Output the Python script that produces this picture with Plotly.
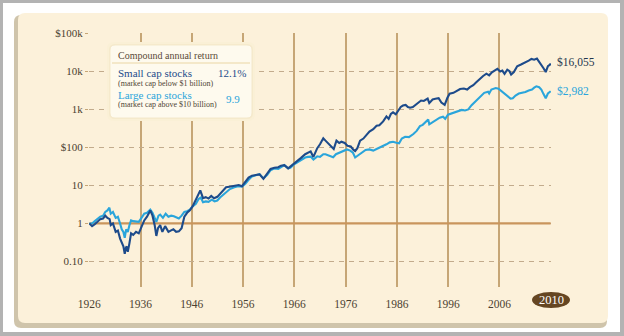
import plotly.graph_objects as go

# ---------------- data ----------------
years_small = [1926.0, 1926.5, 1927.0, 1927.5, 1928.0, 1928.5, 1928.9, 1929.3, 1929.7, 1929.9,
               1930.3, 1930.8, 1931.2, 1931.6, 1931.9, 1932.2, 1932.45, 1932.6, 1932.8, 1933.0,
               1933.3, 1933.6, 1934.0, 1934.5, 1935.0, 1935.5, 1936.0, 1936.5, 1937.1, 1937.5,
               1937.9, 1938.2, 1938.5, 1938.9, 1939.3, 1939.8, 1940.4, 1940.8, 1941.3, 1941.8,
               1942.3, 1942.8, 1943.3, 1943.8, 1944.3, 1944.8, 1945.4, 1945.9, 1946.2, 1946.7,
               1947.2, 1947.7, 1948.2, 1948.7, 1949.3, 1949.8, 1950.4, 1950.9, 1951.5, 1952.3,
               1953.2, 1953.8, 1954.4, 1955.0, 1955.6, 1956.3, 1957.0, 1957.7, 1958.4, 1959.0,
               1959.7, 1960.4, 1960.9, 1961.5, 1962.2, 1962.6, 1963.2, 1963.8, 1964.5, 1965.3,
               1965.8, 1966.3, 1966.8, 1967.5, 1968.0, 1968.6, 1969.0, 1969.6, 1970.1, 1970.5,
               1971.0, 1971.5, 1971.9, 1972.5, 1973.0, 1973.6, 1974.1, 1974.4, 1974.8, 1975.3,
               1975.9, 1976.5, 1977.0, 1977.7, 1978.3, 1978.8, 1979.5, 1980.1, 1980.5, 1980.9,
               1981.3, 1981.8, 1982.2, 1982.7, 1983.1, 1983.6, 1984.0, 1984.4, 1984.9, 1985.5,
               1985.9, 1986.4, 1986.9, 1987.6, 1987.9, 1988.5, 1989.0, 1989.6, 1990.1, 1990.7,
               1991.2, 1991.6, 1992.3, 1992.9, 1993.5, 1994.2, 1994.8, 1995.3, 1995.9, 1996.5,
               1997.1, 1997.7, 1998.3, 1998.8, 1999.3, 1999.8, 2000.3, 2000.8, 2001.2, 2001.6,
               2002.1, 2002.5, 2002.8, 2003.3, 2003.9, 2004.6, 2005.3, 2006.0, 2006.5, 2007.0,
               2007.5, 2007.9, 2008.3, 2008.7, 2009.1, 2009.5, 2009.9, 2010.0]
small_cap = [1.0, 0.85, 0.95, 1.1, 1.3, 1.35, 1.6, 1.4, 1.3, 0.9,
             1.0, 0.6, 0.65, 0.4, 0.3, 0.25, 0.16, 0.22, 0.25, 0.18,
             0.3, 0.55, 0.5, 0.6, 0.55, 0.8, 1.2, 1.5, 2.2, 1.6,
             0.9, 0.47, 0.75, 0.9, 0.6, 0.85, 0.6, 0.65, 0.7, 0.6,
             0.62, 0.75, 1.5, 1.9, 2.2, 2.8, 4.5, 6.0, 7.4, 4.6,
             4.9, 4.5, 5.3, 4.6, 5.0, 6.0, 7.5, 8.9, 9.2, 9.8,
             10.2, 9.5, 12.5, 16.0, 18.0, 18.5, 19.5, 14.8, 20, 27,
             29, 30, 33, 34, 28, 31, 38, 44, 52, 66,
             72, 78, 56, 95, 120, 172, 150, 120, 100, 90,
             150, 130, 140, 130, 110, 105, 85, 80, 95, 150,
             170, 220, 260, 300, 370, 380, 480, 650, 560, 750,
             830, 740, 920, 1150, 1250, 1300, 1150, 1100, 1150, 1350,
             1500, 1700, 1650, 1900, 1450, 1800, 1880, 1950, 1500, 1300,
             2000, 2560, 2700, 3100, 3400, 3500, 3300, 3800, 4300, 5200,
             6300, 7500, 8600, 7800, 9400, 10400, 11500, 9800, 10400, 8500,
             11000, 10000, 8200, 9500, 13500, 15000, 16500, 19000, 21000, 20000,
             21500, 18000, 15000, 12000, 9500, 13500, 15000, 16055]

years_large = [1926.0, 1926.5, 1927.0, 1927.5, 1928.0, 1928.5, 1928.9, 1929.3, 1929.65, 1929.9,
               1930.3, 1930.8, 1931.2, 1931.6, 1931.9, 1932.2, 1932.45, 1932.7, 1933.0, 1933.3,
               1933.6, 1934.0, 1934.5, 1935.0, 1935.5, 1936.0, 1936.5, 1937.1, 1937.5, 1937.9,
               1938.2, 1938.6, 1938.9, 1939.4, 1939.9, 1940.4, 1940.9, 1941.4, 1941.9, 1942.3,
               1942.8, 1943.3, 1943.8, 1944.3, 1944.8, 1945.4, 1945.9, 1946.3, 1946.7, 1947.2,
               1947.7, 1948.3, 1948.8, 1949.3, 1949.8, 1950.5, 1951.0, 1951.6, 1952.4, 1953.1,
               1953.8, 1954.4, 1955.0, 1955.6, 1956.3, 1957.0, 1957.7, 1958.4, 1959.0, 1959.7,
               1960.4, 1960.9, 1961.5, 1962.2, 1962.6, 1963.2, 1963.8, 1964.5, 1965.3, 1965.8,
               1966.3, 1966.8, 1967.5, 1968.0, 1968.6, 1969.0, 1969.6, 1970.4, 1970.9, 1971.5,
               1972.2, 1972.9, 1973.5, 1974.0, 1974.4, 1974.8, 1975.6, 1976.3, 1977.0, 1977.7,
               1978.3, 1978.9, 1979.5, 1980.1, 1980.7, 1981.3, 1981.9, 1982.4, 1982.9, 1983.5,
               1984.2, 1984.7, 1985.0, 1985.6, 1986.2, 1986.7, 1987.3, 1987.7, 1987.9, 1988.6,
               1989.2, 1989.8, 1990.4, 1990.8, 1991.3, 1991.9, 1992.5, 1993.1, 1993.8, 1994.4,
               1995.0, 1995.6, 1996.2, 1996.8, 1997.4, 1997.9, 1998.6, 1998.8, 1999.2, 1999.6,
               2000.0, 2000.5, 2000.9, 2001.4, 2001.8, 2002.3, 2002.7, 2003.1, 2003.6, 2004.2,
               2004.8, 2005.4, 2006.0, 2006.6, 2007.0, 2007.4, 2007.9, 2008.3, 2008.7, 2009.1,
               2009.5, 2009.9, 2010.0]
large_cap = [1.0, 1.0, 1.15, 1.3, 1.5, 1.6, 2.0, 2.2, 2.6, 1.8,
             2.0, 1.4, 1.5, 1.0, 0.7, 0.6, 0.42, 0.7, 0.6, 0.9,
             1.2, 1.15, 1.1, 1.1, 1.4, 1.8, 1.9, 2.3, 1.9, 1.3,
             1.1, 1.6, 1.7, 1.4, 1.8, 1.5, 1.6, 1.55, 1.4, 1.35,
             1.6, 2.0, 2.1, 2.3, 2.8, 3.3, 4.4, 4.8, 3.6, 3.8,
             3.7, 4.2, 3.8, 4.0, 4.8, 5.8, 7.0, 8.0, 8.9, 9.5,
             9.2, 11, 14, 17, 18.5, 19.8, 15.3, 19, 25, 28,
             27, 30, 34, 28, 29, 35, 40, 46, 54, 56,
             57, 48, 58, 56, 66, 66, 60, 55, 66, 72,
             80, 88, 82, 72, 54, 60, 73, 85, 88, 82,
             90, 98, 108, 120, 135, 140, 132, 128, 170, 190,
             185, 205, 224, 270, 360, 390, 480, 540, 400, 470,
             530, 600, 640, 560, 720, 780, 820, 900, 960, 930,
             990, 1280, 1550, 1800, 2300, 2700, 2900, 2600, 3300, 3400,
             3600, 3450, 3100, 2700, 2400, 2100, 1900, 1950, 2300, 2600,
             2700, 2850, 3100, 3300, 3700, 4000, 3800, 3300, 2500, 1950,
             2600, 3000, 2982]

x_tick_labels = ["1926", "1936", "1946", "1956", "1966", "1976", "1986", "1996", "2006", "2010"]
y_tick_values = [0.1, 1, 10, 100, 1000, 10000, 100000]
y_tick_labels = ["0.10", "1", "10", "$100", "1k", "10k", "$100k"]

legend_title = "Compound annual return"
series_names = ["Small cap stocks", "Large cap stocks"]
series_notes = ["(market cap below $1 billion)", "(market cap above $10 billion)"]
series_cagr = ["12.1%", "9.9"]
end_labels = ["$16,055", "$2,982"]

# ---------------- style ----------------
FONT = "Liberation Serif"
NAVY = "#1d4b8b"
LIGHT = "#2aa5db"
TXT = "#4b4131"
GRID_V = "#c6a676"
GRID_H = "#c2ab8c"
ONE_LINE = "#c9955c"
CREAM = "#fcf1da"

W_FIG, H_FIG = 624, 336
L, T, R, B = 89, 33, 551, 287
PW, PH = R - L, B - T


def px(x):
    return (x - L) / PW


def py(y):
    return (B - y) / PH


def rrect(x0, y0, x1, y1, r):
    # rounded rectangle path in paper coordinates from pixel coordinates
    rx, ry = r / PW, r / PH
    a, b, c, d = px(x0), px(x1), py(y1), py(y0)  # left, right, bottom, top
    return (f"M {a+rx},{d} L {b-rx},{d} Q {b},{d} {b},{d-ry} L {b},{c+ry} "
            f"Q {b},{c} {b-rx},{c} L {a+rx},{c} Q {a},{c} {a},{c+ry} L {a},{d-ry} "
            f"Q {a},{d} {a+rx},{d} Z")


x0_year, x1_year = years_small[0], years_small[-1]
n = len(x_tick_labels)
tick_pos = [x0_year + i * (x1_year - x0_year) / (n - 1) for i in range(n)]

fig = go.Figure()

# baseline at 1
fig.add_trace(go.Scatter(x=[x0_year, x1_year], y=[1, 1], mode="lines",
                         line=dict(color=ONE_LINE, width=2.3), hoverinfo="skip", showlegend=False))
fig.add_trace(go.Scatter(x=years_large, y=large_cap, mode="lines", name=series_names[1],
                         line=dict(color=LIGHT, width=2.1), showlegend=False))
fig.add_trace(go.Scatter(x=years_small, y=small_cap, mode="lines", name=series_names[0],
                         line=dict(color=NAVY, width=2.1), showlegend=False))

shapes = [
    # white inset
    dict(type="rect", xref="paper", yref="paper", x0=px(3), x1=px(620), y0=py(332), y1=py(3),
         fillcolor="#ffffff", line=dict(width=0), layer="below"),
    # panel shadow
    dict(type="path", xref="paper", yref="paper", path=rrect(14, 15, 607, 328, 7),
         fillcolor="#cfc4ab", line=dict(width=0), layer="below"),
    # cream panel
    dict(type="path", xref="paper", yref="paper", path=rrect(18, 13, 608, 323, 7),
         fillcolor=CREAM, line=dict(width=0), layer="below"),
    # legend glow
    dict(type="path", xref="paper", yref="paper", path=rrect(107, 42, 255, 121, 7),
         fillcolor="#faf0d6", line=dict(width=0), layer="above"),
    dict(type="path", xref="paper", yref="paper", path=rrect(109, 44, 253, 119, 6),
         fillcolor="#f7ebcc", line=dict(width=0), layer="above"),
    dict(type="path", xref="paper", yref="paper", path=rrect(110, 45, 252, 118, 5),
         fillcolor="#fefaee", line=dict(color="#f4e9cc", width=1), layer="above"),
    dict(type="line", xref="paper", yref="paper", x0=px(112), x1=px(250), y0=py(63), y1=py(63),
         line=dict(color="#f0e2bd", width=1.5), layer="above"),
    # 2010 ellipse
    dict(type="circle", xref="paper", yref="paper", x0=px(532), x1=px(570), y0=py(308), y1=py(292),
         fillcolor="#654622", line=dict(width=0), layer="above"),
]

ann = []


def add_text(text, x, y, size, color, xanchor="left"):
    ann.append(dict(text=text, x=px(x), y=py(y), xref="paper", yref="paper", showarrow=False,
                    xanchor=xanchor, yanchor="middle",
                    font=dict(family=FONT, size=size, color=color)))


add_text(legend_title, 116, 56, 10, "#5a4a38")
add_text(series_names[0], 116, 73, 11, NAVY)
add_text(series_notes[0], 116, 83, 8, "#4f4535")
add_text(series_cagr[0], 248, 73, 11, NAVY, "right")
add_text(series_names[1], 116, 95, 11, LIGHT)
add_text(series_notes[1], 116, 104.5, 8, "#4f4535")
add_text(series_cagr[1], 224, 99, 11, LIGHT)
add_text(end_labels[0], 555, 62, 11.5, "#23354d")
add_text(end_labels[1], 555, 91, 11.5, LIGHT)
add_text(x_tick_labels[-1], 551, 300, 12.5, "#ffffff", "center")

fig.update_layout(
    width=W_FIG, height=H_FIG,
    margin=dict(l=L, r=W_FIG - R, t=T, b=H_FIG - B, pad=0),
    paper_bgcolor="#b3b3b3",
    plot_bgcolor="rgba(0,0,0,0)",
    shapes=shapes,
    annotations=ann,
    showlegend=False,
    font=dict(family=FONT, size=11, color=TXT),
)
fig.update_xaxes(
    range=[x0_year - 0.06, x1_year + 0.06],
    tickmode="array", tickvals=tick_pos,
    ticktext=x_tick_labels[:-1] + [""],
    showgrid=True, gridcolor=GRID_V, gridwidth=1.5,
    zeroline=False, showline=False,
    ticks="outside", ticklen=6, tickcolor="rgba(0,0,0,0)",
    tickfont=dict(family=FONT, size=11.5, color=TXT),
)
fig.update_yaxes(
    type="log", range=[-1.67, 5.004],
    tickmode="array", tickvals=y_tick_values, ticktext=y_tick_labels,
    showgrid=True, gridcolor=GRID_H, gridwidth=1.2, griddash="5px,5px",
    zeroline=False, showline=False,
    ticks="outside", ticklen=3, tickcolor=GRID_V, tickwidth=1,
    tickfont=dict(family=FONT, size=11, color=TXT),
)

fig.write_html("out.html")
